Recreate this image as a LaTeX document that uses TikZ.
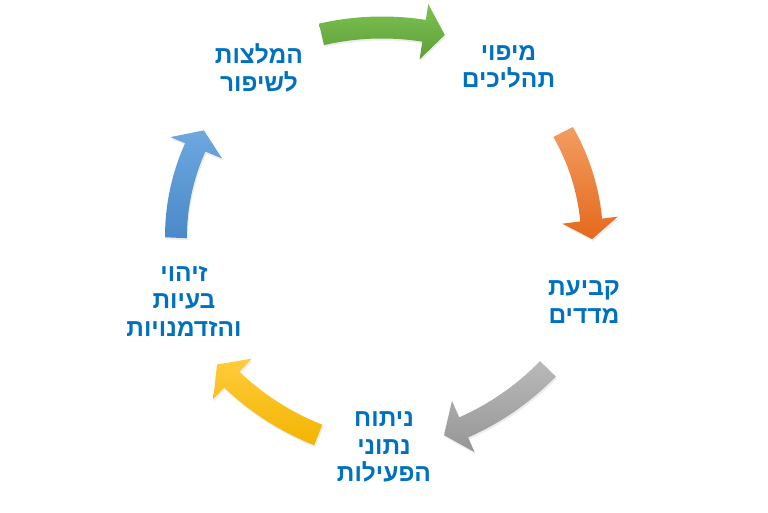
\documentclass[tikz,border=0pt]{standalone}
\usepackage{fontspec}
\newfontfamily\hebfont[Script=Hebrew]{Liberation Sans}
\TeXXeTstate=1
\usetikzlibrary{shadows}
\definecolor{labelblue}{HTML}{0070C0}
\definecolor{greentop}{HTML}{7DC152}
\definecolor{greenbot}{HTML}{5E9F38}
\definecolor{orangetop}{HTML}{F39C62}
\definecolor{orangebot}{HTML}{E4691C}
\definecolor{graytop}{HTML}{B9B9B9}
\definecolor{graybot}{HTML}{969696}
\definecolor{yellowtop}{HTML}{FFCC3C}
\definecolor{yellowbot}{HTML}{F2B500}
\definecolor{bluetop}{HTML}{6DA8DE}
\definecolor{bluebot}{HTML}{4A89C9}

% one curved block arrow, drawn around its own bend centre
\newcommand{\arrowpath}{(103:280) arc[start angle=103, end angle=81, radius=280]
  -- (81:296) -- (76.5:269) -- (81:240) -- (81:258)
  arc[start angle=81, end angle=103, radius=258] -- cycle}

\begin{document}
\begin{tikzpicture}[
    x=1pt, y=1pt,
    lbl/.style={text=labelblue, align=center, font=\hebfont\bfseries\fontsize{24.5}{27.5}\selectfont},
    arrow_style/.style={drop shadow={shadow xshift=1pt, shadow yshift=-2pt, opacity=0.15}},
    green_style/.style={arrow_style, top color=greentop, bottom color=greenbot},
    orange_style/.style={arrow_style, top color=orangetop, bottom color=orangebot},
    gray_style/.style={arrow_style, top color=graytop, bottom color=graybot},
    yellow_style/.style={arrow_style, top color=yellowtop, bottom color=yellowbot},
    blue_style/.style={arrow_style, top color=bluetop, bottom color=bluebot}
]
    \useasboundingbox (0,0) rectangle (768,512);

    % Cycle arrows (clockwise)
    \shade[green_style, shift={(382,477.5)}, rotate=0, shift={(0,-262)}] \arrowpath;
    \shade[orange_style, shift={(577.5,327.5)}, rotate=-74.6, xscale=0.9, shift={(0,-262)}] \arrowpath;
    \shade[gray_style, shift={(497,110.5)}, rotate=-147.2, shift={(0,-262)}] \arrowpath;
    \shade[yellow_style, shift={(268.5,111.5)}, rotate=145.4, shift={(0,-262)}] \arrowpath;
    \shade[blue_style, shift={(189.5,327)}, rotate=75.7, xscale=0.9, shift={(0,-262)}] \arrowpath;

    % Step labels
    \node[lbl] (mapping) at (508.5,445) {\beginR מיפוי\endR\\\beginR תהליכים\endR};
    \node[lbl] (metrics) at (584,210) {\beginR קביעת\endR\\\beginR מדדים\endR};
    \node[lbl] (analysis) at (384,65) {\beginR ניתוח\endR\\\beginR נתוני\endR\\\beginR הפעילות\endR};
    \node[lbl] (issues) at (184,211) {\beginR זיהוי\endR\\\beginR בעיות\endR\\\beginR והזדמנויות\endR};
    \node[lbl] (advice) at (259,444) {\beginR המלצות\endR\\\beginR לשיפור\endR};

\end{tikzpicture}
\end{document}
